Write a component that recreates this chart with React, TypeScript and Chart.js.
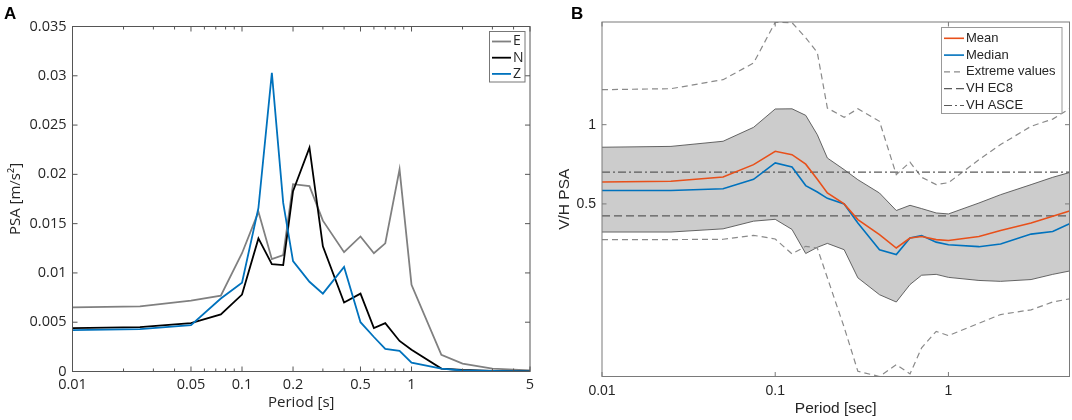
import React, { useEffect, useRef } from 'react'
import { Chart, registerables } from 'chart.js'

Chart.register(...registerables)

// periods [s] shared by both panels
const periods = [0.01, 0.025, 0.05, 0.075, 0.1, 0.125, 0.15, 0.175, 0.2, 0.25, 0.3, 0.4, 0.5, 0.6, 0.7, 0.85, 1, 1.5, 2, 3, 4, 5]

// panel A: PSA [m/s2] per component
const psaE = [0.0065, 0.0066, 0.0072, 0.0077, 0.012, 0.0162, 0.0114, 0.0118, 0.019, 0.0188, 0.0153, 0.0121, 0.0137, 0.012, 0.013, 0.0205, 0.0088, 0.0017, 0.0008, 0.0003, 0.0002, 0.0001]
const psaN = [0.0044, 0.0045, 0.0049, 0.0058, 0.0078, 0.0135, 0.0109, 0.0108, 0.0183, 0.0227, 0.0127, 0.007, 0.0079, 0.0044, 0.0049, 0.0031, 0.0022, 0.0003, 0.00015, 0.00006, 0.00003, 0.00002]
const psaZ = [0.0042, 0.0043, 0.0047, 0.0074, 0.009, 0.0166, 0.0303, 0.0171, 0.0112, 0.0091, 0.0079, 0.0106, 0.005, 0.0035, 0.0023, 0.0021, 0.0009, 0.0003, 0.0001, 0.00005, 0.00003, 0.00002]

// panel B: V/H ratios
const vhMean = [0.606, 0.61, 0.633, 0.705, 0.792, 0.769, 0.708, 0.62, 0.55, 0.5, 0.436, 0.382, 0.34, 0.371, 0.376, 0.366, 0.363, 0.376, 0.396, 0.423, 0.449, 0.47]
const vhMedian = [0.562, 0.562, 0.571, 0.62, 0.716, 0.691, 0.587, 0.555, 0.525, 0.5, 0.423, 0.335, 0.321, 0.371, 0.379, 0.358, 0.35, 0.344, 0.352, 0.384, 0.393, 0.42]
const vhUpperBand = [0.821, 0.827, 0.865, 0.977, 1.147, 1.149, 1.085, 0.916, 0.747, 0.675, 0.618, 0.55, 0.472, 0.494, 0.48, 0.462, 0.458, 0.504, 0.542, 0.592, 0.631, 0.658]
const vhLowerBand = [0.391, 0.391, 0.402, 0.43, 0.437, 0.4, 0.324, 0.342, 0.354, 0.335, 0.262, 0.226, 0.212, 0.247, 0.268, 0.27, 0.263, 0.256, 0.254, 0.258, 0.27, 0.278]
const vhMax = [1.358, 1.37, 1.482, 1.715, 2.45, 2.44, 2.14, 1.88, 1.157, 1.066, 1.15, 1.03, 0.646, 0.721, 0.631, 0.592, 0.602, 0.736, 0.84, 0.986, 1.05, 1.15]
const vhMin = [0.366, 0.366, 0.367, 0.38, 0.368, 0.323, 0.345, 0.34, 0.262, 0.17, 0.1157, 0.1105, 0.1227, 0.113, 0.142, 0.164, 0.158, 0.176, 0.19, 0.198, 0.212, 0.218]
const vhEC8 = 0.45
const vhASCE = 0.66

// ticks
const xTicksA = [0.01, 0.02, 0.03, 0.04, 0.05, 0.06, 0.07, 0.08, 0.09, 0.1, 0.2, 0.3, 0.4, 0.5, 0.6, 0.7, 0.8, 0.9, 1, 2, 3, 4, 5]
const xLabelsA = [0.01, 0.05, 0.1, 0.2, 0.5, 1, 5]
const yTicksA = [0, 0.005, 0.01, 0.015, 0.02, 0.025, 0.03, 0.035]
const xTicksB = [0.01, 0.1, 1]
const yTicksB = [0.5, 1]

const pts = (ys: number[]) => periods.map((x, i) => ({ x, y: ys[i] }))
const flat = (v: number) => [{ x: 0.01, y: v }, { x: 5, y: v }]

const FONT_A = '"Open Sans", sans-serif'
const FONT_B = '"Liberation Sans", Arial, sans-serif'
const TEXT = '#262626'

type Row = { label: string; color: string; dash: number[]; width: number }

// MATLAB-like box: inward ticks on all sides, legend box, panel letter
const makeFrame = (o: any) => ({
  id: 'frame',
  afterDraw(chart: any) {
    const { ctx, chartArea: a, scales } = chart
    ctx.save()
    ctx.strokeStyle = o.boxColor
    ctx.lineWidth = 1
    ctx.setLineDash([])
    ctx.beginPath()
    for (const v of o.xTicks) {
      const px = scales.x.getPixelForValue(v)
      const len = o.xMajor.includes(v) ? o.majorLen : o.minorLen
      ctx.moveTo(px, a.bottom)
      ctx.lineTo(px, a.bottom - len)
      ctx.moveTo(px, a.top)
      ctx.lineTo(px, a.top + len)
    }
    for (const v of o.yTicks) {
      const py = scales.y.getPixelForValue(v)
      ctx.moveTo(a.left, py)
      ctx.lineTo(a.left + o.majorLen, py)
      ctx.moveTo(a.right, py)
      ctx.lineTo(a.right - o.majorLen, py)
    }
    ctx.stroke()
    ctx.strokeRect(a.left, a.top, a.right - a.left, a.bottom - a.top)

    // legend
    const L = o.legend
    ctx.fillStyle = '#fff'
    ctx.fillRect(L.x0, L.y0, L.x1 - L.x0, L.y1 - L.y0)
    ctx.strokeStyle = L.border
    ctx.strokeRect(L.x0, L.y0, L.x1 - L.x0, L.y1 - L.y0)
    ctx.font = L.font
    ctx.textBaseline = 'middle'
    ctx.textAlign = 'left'
    L.rows.forEach((r: Row, i: number) => {
      const y = L.rowY + i * L.rowGap
      ctx.strokeStyle = r.color
      ctx.lineWidth = r.width
      ctx.setLineDash(r.dash)
      ctx.beginPath()
      ctx.moveTo(L.lineX0, y)
      ctx.lineTo(L.lineX1, y)
      ctx.stroke()
      ctx.fillStyle = TEXT
      ctx.fillText(r.label, L.textX, y)
    })

    ctx.setLineDash([])
    ctx.fillStyle = '#000'
    ctx.font = 'bold 17px "Liberation Sans", Arial, sans-serif'
    ctx.textBaseline = 'alphabetic'
    ctx.fillText(o.letter, o.letterX, o.letterY)
    ctx.restore()
  },
})

const ChartCanvas: React.FC<{ config: any; left: number; width: number }> = ({ config, left, width }) => {
  const ref = useRef<HTMLCanvasElement>(null)
  useEffect(() => {
    if (!ref.current) return
    const chart = new Chart(ref.current, config)
    return () => chart.destroy()
  }, [config])
  return (
    <canvas
      ref={ref}
      width={width}
      height={420}
      style={{ position: 'absolute', left, top: 0, width, height: 420 }}
    />
  )
}

const configA = {
  type: 'line',
  data: {
    datasets: [
      { data: pts(psaE), borderColor: '#808080', borderWidth: 1.8, order: 3 },
      { data: pts(psaN), borderColor: '#000000', borderWidth: 1.8, order: 2 },
      { data: pts(psaZ), borderColor: '#0072BD', borderWidth: 1.8, order: 1 },
    ],
  },
  options: {
    responsive: false,
    animation: false,
    events: [],
    layout: { padding: { top: 26.5, right: 15, bottom: 0, left: 0 } },
    elements: { point: { radius: 0 }, line: { tension: 0 } },
    plugins: { legend: { display: false }, tooltip: { enabled: false } },
    scales: {
      x: {
        type: 'logarithmic',
        min: 0.01,
        max: 5,
        afterBuildTicks: (s: any) => { s.ticks = xTicksA.map((value) => ({ value })) },
        afterFit: (s: any) => { s.height = 48.5 },
        grid: { display: false, drawTicks: false },
        border: { display: false },
        ticks: {
          autoSkip: false,
          maxRotation: 0,
          padding: 5,
          color: TEXT,
          font: { family: FONT_A, size: 14.5 },
          callback: (v: number) => (xLabelsA.includes(v) ? String(v) : ''),
        },
        title: { display: true, text: 'Period [s]', color: TEXT, font: { family: FONT_A, size: 15 }, padding: { top: 0, bottom: 8 } },
      },
      y: {
        type: 'linear',
        min: 0,
        max: 0.035,
        afterBuildTicks: (s: any) => { s.ticks = yTicksA.map((value) => ({ value })) },
        afterFit: (s: any) => { s.width = 72.5 },
        grid: { display: false, drawTicks: false },
        border: { display: false },
        ticks: { padding: 6, color: TEXT, font: { family: FONT_A, size: 14.5 }, callback: (v: number) => String(v) },
        title: { display: true, text: 'PSA [m/s²]', color: TEXT, font: { family: FONT_A, size: 15 }, padding: { top: 6.5, bottom: 0 } },
      },
    },
  },
  plugins: [
    makeFrame({
      boxColor: '#555',
      xTicks: xTicksA,
      xMajor: xLabelsA,
      yTicks: yTicksA,
      majorLen: 5,
      minorLen: 3,
      letter: 'A',
      letterX: 4,
      letterY: 18.5,
      legend: {
        x0: 489.5, y0: 31.5, x1: 525, y1: 82,
        border: '#777',
        font: `14px ${FONT_A}`,
        rowY: 41.5, rowGap: 16.2,
        lineX0: 492, lineX1: 511, textX: 513,
        rows: [
          { label: 'E', color: '#808080', dash: [], width: 1.8 },
          { label: 'N', color: '#000000', dash: [], width: 1.8 },
          { label: 'Z', color: '#0072BD', dash: [], width: 1.8 },
        ],
      },
    }),
  ],
}

const DASH_EXT = [6, 4]
const DASH_EC8 = [8, 4]
const DASH_ASCE = [8, 3, 2, 3]

const configB = {
  type: 'line',
  data: {
    datasets: [
      { data: pts(vhMean), borderColor: '#E8501A', borderWidth: 1.6, order: 1 },
      { data: pts(vhMedian), borderColor: '#0072BD', borderWidth: 1.6, order: 2 },
      { data: pts(vhMax), borderColor: '#8a8a8a', borderWidth: 1.2, borderDash: DASH_EXT, order: 5 },
      { data: pts(vhMin), borderColor: '#8a8a8a', borderWidth: 1.2, borderDash: DASH_EXT, order: 5 },
      { data: flat(vhEC8), borderColor: '#5a5a5a', borderWidth: 1.2, borderDash: DASH_EC8, order: 4 },
      { data: flat(vhASCE), borderColor: '#5a5a5a', borderWidth: 1.2, borderDash: DASH_ASCE, order: 4 },
      { data: pts(vhUpperBand), borderColor: '#555', borderWidth: 0.9, fill: '+1', backgroundColor: '#cccccc', order: 10 },
      { data: pts(vhLowerBand), borderColor: '#555', borderWidth: 0.9, order: 9 },
    ],
  },
  options: {
    responsive: false,
    animation: false,
    events: [],
    layout: { padding: { top: 22, right: 2.5, bottom: 0, left: 0 } },
    elements: { point: { radius: 0 }, line: { tension: 0 } },
    plugins: { legend: { display: false }, tooltip: { enabled: false } },
    scales: {
      x: {
        type: 'logarithmic',
        min: 0.01,
        max: 5,
        afterBuildTicks: (s: any) => { s.ticks = xTicksB.map((value) => ({ value })) },
        afterFit: (s: any) => { s.height = 43.5 },
        grid: { display: false, drawTicks: false },
        border: { display: false },
        ticks: { autoSkip: false, maxRotation: 0, padding: 6, color: TEXT, font: { family: FONT_B, size: 14 }, callback: (v: number) => String(v) },
        title: { display: true, text: 'Period [sec]', color: TEXT, font: { family: FONT_B, size: 15.5 }, padding: { top: 0, bottom: 1.5 } },
      },
      y: {
        type: 'logarithmic',
        min: 0.1105,
        max: 2.455,
        afterBuildTicks: (s: any) => { s.ticks = yTicksB.map((value) => ({ value })) },
        afterFit: (s: any) => { s.width = 72 },
        grid: { display: false, drawTicks: false },
        border: { display: false },
        ticks: { padding: 6, color: TEXT, font: { family: FONT_B, size: 14 }, callback: (v: number) => String(v) },
        title: { display: true, text: 'V/H PSA', color: TEXT, font: { family: FONT_B, size: 15.5 }, padding: { top: 25.5, bottom: 0 } },
      },
    },
  },
  plugins: [
    makeFrame({
      boxColor: '#7a7a7a',
      xTicks: xTicksB,
      xMajor: xTicksB,
      yTicks: yTicksB,
      majorLen: 4.5,
      minorLen: 3,
      letter: 'B',
      letterX: 41,
      letterY: 18.5,
      legend: {
        x0: 411.5, y0: 27.5, x1: 532, y1: 113.5,
        border: '#999',
        font: `13px ${FONT_B}`,
        rowY: 38.3, rowGap: 16.8,
        lineX0: 414, lineX1: 434, textX: 436,
        rows: [
          { label: 'Mean', color: '#E8501A', dash: [], width: 1.6 },
          { label: 'Median', color: '#0072BD', dash: [], width: 1.6 },
          { label: 'Extreme values', color: '#8a8a8a', dash: DASH_EXT, width: 1.2 },
          { label: 'VH EC8', color: '#5a5a5a', dash: DASH_EC8, width: 1.2 },
          { label: 'VH ASCE', color: '#5a5a5a', dash: DASH_ASCE, width: 1.2 },
        ],
      },
    }),
  ],
}

export default function App() {
  return (
    <div style={{ position: 'absolute', left: 0, top: 0, width: 1072, height: 420, background: '#fff', overflow: 'hidden' }}>
      <ChartCanvas config={configA} left={0} width={545} />
      <ChartCanvas config={configB} left={530} width={542} />
    </div>
  )
}
